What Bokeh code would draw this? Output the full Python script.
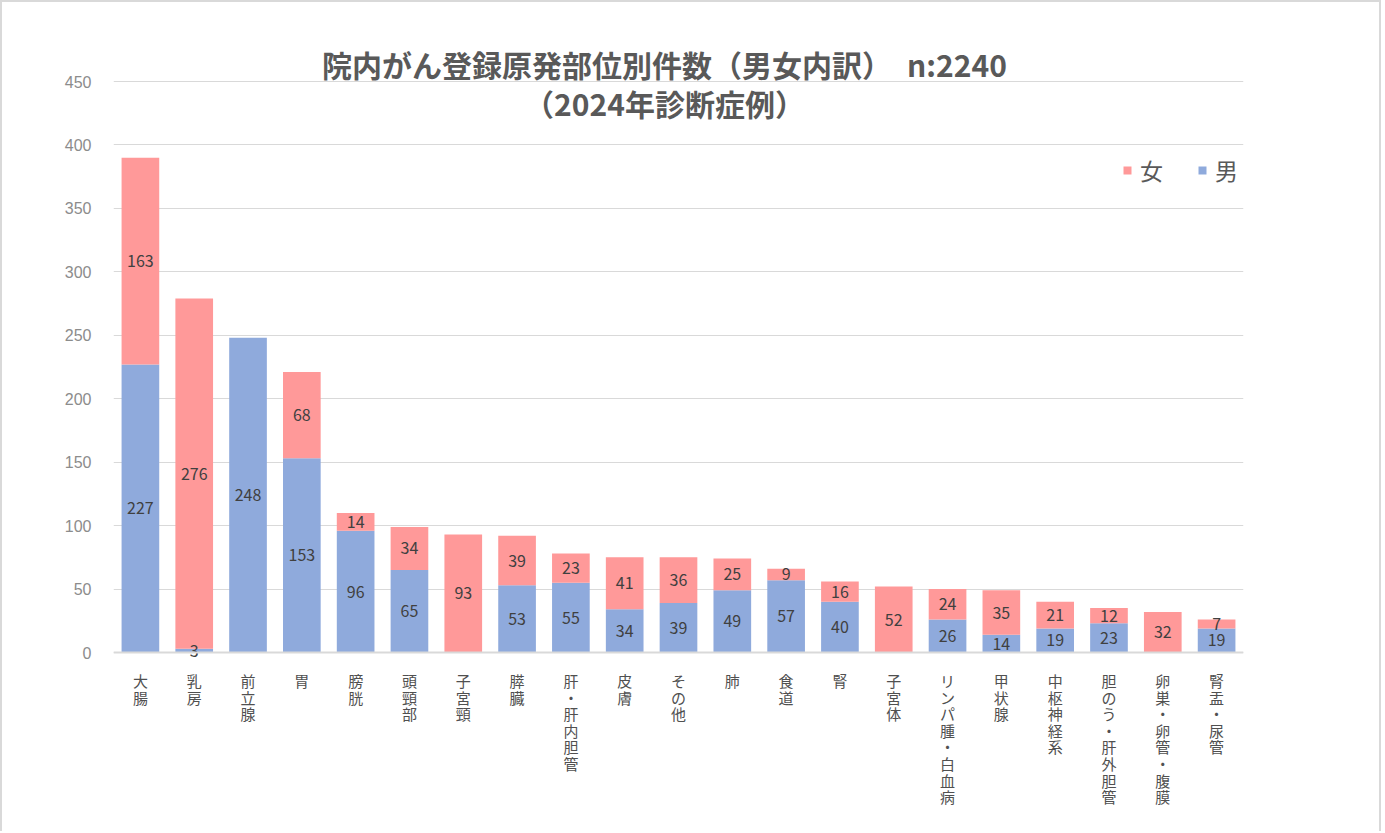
from bokeh.plotting import figure
from bokeh.models import ColumnDataSource, Range1d, FactorRange, Label, Legend, LegendItem, FixedTicker, Span
from bokeh.core.properties import value
from bokeh.embed import file_html
from bokeh.resources import INLINE

categories = ["大腸", "乳房", "前立腺", "胃", "膀胱", "頭頸部", "子宮頸", "膵臓", "肝・肝内胆管", "皮膚",
              "その他", "肺", "食道", "腎", "子宮体", "リンパ腫・白血病", "甲状腺", "中枢神経系",
              "胆のう・肝外胆管", "卵巣・卵管・腹膜", "腎盂・尿管"]
male = [227, 3, 248, 153, 96, 65, 0, 53, 55, 34, 39, 49, 57, 40, 0, 26, 14, 19, 23, 0, 19]
female = [163, 276, 0, 68, 14, 34, 93, 39, 23, 41, 36, 25, 9, 16, 52, 24, 35, 21, 12, 32, 7]
series_names = ["男", "女"]
title_line1 = "院内がん登録原発部位別件数（男女内訳）　n:2240"
title_line2 = "（2024年診断症例）"
y_ticks = [0, 50, 100, 150, 200, 250, 300, 350, 400, 450]

COL_M = "#8FAADC"
COL_F = "#FF9999"
JP = "Noto Sans CJK JP"

BORDER = 2                                   # css border of the chart box
W, H = 1385 - 2 * BORDER, 833 - BORDER       # canvas size
PLOT_TOP_PX, PLOT_BOTTOM_PX = 81 - BORDER, 652 - BORDER   # canvas rows of 450 and 0
FRAME_LEFT, FRAME_RIGHT = 113 - BORDER, 1243 - BORDER
Y_MAX = 450
SCALE = (PLOT_BOTTOM_PX - PLOT_TOP_PX) / Y_MAX    # px per unit
Y_LO = -(H - PLOT_BOTTOM_PX) / SCALE
Y_HI = Y_MAX + PLOT_TOP_PX / SCALE


def px_to_y(py):
    return (PLOT_BOTTOM_PX - py) / SCALE


src = ColumnDataSource(dict(cat=categories, 男=male, 女=female))

p = figure(x_range=FactorRange(*categories, range_padding=0), y_range=Range1d(Y_LO, Y_HI),
           width=W, height=H, output_backend="svg", toolbar_location=None,
           x_axis_location=None,
           min_border_left=FRAME_LEFT, min_border_right=W - FRAME_RIGHT,
           min_border_top=0, min_border_bottom=0)
p.outline_line_color = None
p.background_fill_color = "white"
p.border_fill_color = "white"
p.styles = {"border-top": f"{BORDER}px solid #d9d9d9",
            "border-left": f"{BORDER}px solid #d9d9d9",
            "border-right": f"{BORDER}px solid #d9d9d9"}

# grid & baseline
p.xgrid.grid_line_color = None
p.ygrid.ticker = FixedTicker(ticks=y_ticks)
p.ygrid.grid_line_color = "#d9d9d9"
p.ygrid.grid_line_width = 1
p.add_layout(Span(location=0, dimension="width", line_color="#d9d9d9", line_width=2))

rs = p.vbar_stack(series_names, x="cat", width=0.7, source=src,
                  fill_color=[COL_M, COL_F], line_color=None)

# data labels
lx, ly, lt = [], [], []
for c, m, f in zip(categories, male, female):
    if m:
        lx.append(c); ly.append(m / 2); lt.append(str(m))
    if f:
        lx.append(c); ly.append(m + f / 2); lt.append(str(f))
lsrc = ColumnDataSource(dict(x=lx, y=ly, t=lt))
p.text(x="x", y="y", text="t", source=lsrc, text_align="center", text_baseline="middle",
       text_font=value(JP), text_font_size="16px", text_color="#404040")

# vertical category labels (one character per row)
cx, cy, ct = [], [], []
for c in categories:
    for k, ch in enumerate(c):
        cx.append(c); cy.append(px_to_y(680 - BORDER + k * 16.6)); ct.append(ch)
csrc = ColumnDataSource(dict(x=cx, y=cy, t=ct))
p.text(x="x", y="y", text="t", source=csrc, text_align="center", text_baseline="middle",
       text_font=value(JP), text_font_size="15px", text_color="#505050")

# y axis
p.yaxis.ticker = FixedTicker(ticks=y_ticks)
p.yaxis.axis_line_color = None
p.yaxis.major_tick_line_color = None
p.yaxis.minor_tick_line_color = None
p.yaxis.major_label_text_font = "Liberation Sans"
p.yaxis.major_label_text_font_size = "16px"
p.yaxis.major_label_text_color = "#8c8c8c"
p.yaxis.major_label_standoff = 16

# legend
legend = Legend(items=[LegendItem(label="女", renderers=[rs[1]]),
                       LegendItem(label="男", renderers=[rs[0]])],
                orientation="horizontal", location=(1009, 646),
                glyph_width=10, glyph_height=10, label_standoff=8, spacing=34,
                padding=0, margin=0, border_line_color=None, background_fill_alpha=0,
                label_text_font=JP, label_text_font_size="23px", label_text_color="#595959")
p.add_layout(legend, "center")

# titles
p.add_layout(Label(x=664 - 113, y=H - (63 - BORDER), x_units="screen", y_units="screen",
                   text=title_line1, text_align="center", text_baseline="middle", text_font=JP,
                   text_font_style="bold", text_font_size="30px", text_color="#595959"))
p.add_layout(Label(x=664 - 113, y=H - (102 - BORDER), x_units="screen", y_units="screen",
                   text=title_line2, text_align="center", text_baseline="middle", text_font=JP,
                   text_font_style="bold", text_font_size="30px", text_color="#595959"))

open("out.html", "w").write(file_html(p, INLINE))
